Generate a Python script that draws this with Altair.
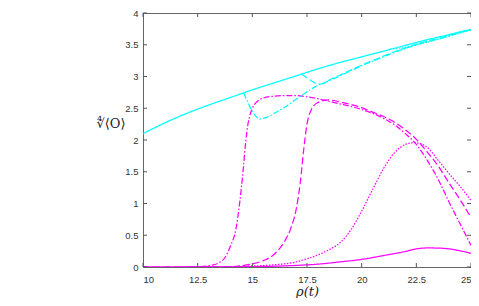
import altair as alt
import pandas as pd

# ---- data ----
cs_x = [10, 11, 12, 13, 14, 15, 16, 17, 18, 19, 20, 21, 22, 23, 24, 25]
cs_y = [2.10, 2.27, 2.42, 2.55, 2.67, 2.79, 2.90, 3.01, 3.12, 3.22, 3.31, 3.40, 3.49, 3.58, 3.66, 3.74]

cdd_x = [14.6, 14.8, 15.0, 15.2, 15.35, 15.5, 15.8, 16, 16.5, 17, 17.5, 18, 18.5, 19, 19.5, 20,
         20.5, 21, 21.5, 22, 22.5, 23, 23.5, 24, 24.5, 25]
cdd_y = [2.74, 2.59, 2.45, 2.36, 2.33, 2.34, 2.38, 2.42, 2.52, 2.64, 2.76, 2.86, 2.93, 3.01, 3.09, 3.17,
         3.24, 3.31, 3.38, 3.44, 3.50, 3.55, 3.59, 3.64, 3.69, 3.74]

cd_x = [17.25, 17.5, 17.75, 18.0, 18.25, 18.5, 19, 19.5, 20, 20.5, 21, 21.5, 22, 22.5, 23, 23.5, 24, 24.5, 25]
cd_y = [3.04, 2.98, 2.92, 2.88, 2.89, 2.94, 3.02, 3.10, 3.18, 3.25, 3.32, 3.39, 3.45, 3.51, 3.56, 3.60, 3.65, 3.70, 3.74]

cdot_x = [21.3, 21.75, 22.2, 22.7, 23.2, 23.7, 24.2, 24.7, 25]
cdot_y = [3.43, 3.445, 3.475, 3.515, 3.56, 3.605, 3.655, 3.705, 3.74]

mdd_x = [10, 11, 12, 12.5, 13, 13.5, 13.75, 14, 14.25, 14.4, 14.5, 14.6, 14.7, 14.8, 14.9, 15, 15.2, 15.5,
         16, 16.5, 17, 17.5, 18, 18.5, 19, 19.5, 20, 20.5, 21, 21.5, 22, 22.5, 23, 23.5, 24, 24.5, 25]
mdd_y = [0, 0, 0, 0.005, 0.02, 0.07, 0.15, 0.33, 0.6, 0.95, 1.25, 1.6, 1.98, 2.25, 2.40, 2.50, 2.60, 2.66,
         2.69, 2.70, 2.70, 2.68, 2.65, 2.61, 2.57, 2.53, 2.48, 2.42, 2.34, 2.24, 2.10, 1.93, 1.68, 1.38, 1.02, 0.68, 0.34]

md_x = [10, 12, 14, 14.5, 15, 15.5, 16, 16.5, 16.75, 17, 17.2, 17.35, 17.5, 17.7, 18, 18.5, 19, 19.5,
        20, 20.5, 21, 21.5, 22, 22.5, 23, 23.5, 24, 24.5, 25]
md_y = [0, 0, 0.005, 0.02, 0.05, 0.1, 0.2, 0.42, 0.6, 0.9, 1.35, 1.85, 2.25, 2.48, 2.59, 2.63, 2.60, 2.56,
        2.51, 2.44, 2.37, 2.28, 2.16, 2.01, 1.81, 1.59, 1.32, 1.06, 0.78]

mdot_x = [10, 12, 14, 15, 16, 17, 17.5, 18, 18.5, 19, 19.5, 20, 20.5, 21, 21.5, 22, 22.4, 22.9, 23.5, 24, 24.5, 25]
mdot_y = [0, 0, 0.005, 0.015, 0.035, 0.08, 0.13, 0.19, 0.27, 0.38, 0.58, 0.88, 1.22, 1.55, 1.80, 1.93, 1.96,
          1.91, 1.68, 1.47, 1.27, 1.05]

ms_x = [10, 12, 14, 15, 16, 17, 18, 19, 20, 21, 22, 22.5, 23, 23.5, 24, 24.5, 25]
ms_y = [0, 0, 0.003, 0.006, 0.012, 0.025, 0.045, 0.08, 0.12, 0.18, 0.245, 0.285, 0.30, 0.298, 0.285, 0.255, 0.215]

x_ticks = [10, 12.5, 15, 17.5, 20, 22.5, 25]
y_ticks = [0, 0.5, 1, 1.5, 2, 2.5, 3, 3.5, 4]

CYAN = "#00FFFF"
MAGENTA = "#FF00FF"
SOLID = [1, 0]
DASH = [7, 3]
DOT = [1.5, 1.5]
DASHDOT = [6, 2, 1.5, 2]

series = [
    (ms_x, ms_y, MAGENTA, SOLID),
    (mdot_x, mdot_y, MAGENTA, DOT),
    (md_x, md_y, MAGENTA, DASH),
    (mdd_x, mdd_y, MAGENTA, DASHDOT),
    (cdot_x, cdot_y, CYAN, DOT),
    (cd_x, cd_y, CYAN, DASH),
    (cdd_x, cdd_y, CYAN, DASHDOT),
    (cs_x, cs_y, CYAN, SOLID),
]

W, H = 328, 254
xs = alt.Scale(domain=[10, 25], nice=False, zero=False)
ys = alt.Scale(domain=[0, 4], nice=False, zero=False)

LABEL_COLOR = "#333333"
x_axis = alt.Axis(values=x_ticks, labelExpr="'' + datum.value", ticks=False, domain=False, grid=False,
                  labelFont="Liberation Sans", labelFontSize=9.5, labelColor=LABEL_COLOR, labelPadding=7,
                  title="ρ(t)", titleFont="DejaVu Serif", titleFontStyle="italic", titleFontWeight="normal",
                  titleFontSize=13, titleColor="#222222", titlePadding=2)
y_axis = alt.Axis(values=y_ticks, labelExpr="'' + datum.value", ticks=False, domain=False, grid=False,
                  labelFont="Liberation Sans", labelFontSize=9.5, labelColor=LABEL_COLOR, labelPadding=5,
                  title="∜⟨O⟩", titleFont="DejaVu Serif", titleFontWeight="normal", titleFontSize=13,
                  titleColor="#222222", titleAngle=0, titleAlign="right", titleBaseline="middle",
                  titleX=-18, titleY=110)

layers = []
for sx, sy, col, dash in series:
    df = pd.DataFrame({"x": sx, "y": sy})
    layers.append(
        alt.Chart(df).mark_line(color=col, strokeWidth=1.25, strokeDash=dash, interpolate="monotone", clip=True)
        .encode(x=alt.X("x:Q", scale=xs, axis=x_axis),
                y=alt.Y("y:Q", scale=ys, axis=y_axis))
    )

xt = pd.DataFrame({"v": x_ticks})
yt = pd.DataFrame({"v": y_ticks})
TICK = "#555555"
layers.append(alt.Chart(xt).mark_rule(color=TICK, strokeWidth=1).encode(
    x=alt.X("v:Q", scale=xs, axis=x_axis), y=alt.value(H), y2=alt.value(H - 4)))
layers.append(alt.Chart(xt).mark_rule(color=TICK, strokeWidth=1).encode(
    x=alt.X("v:Q", scale=xs, axis=x_axis), y=alt.value(0), y2=alt.value(4)))
layers.append(alt.Chart(yt).mark_rule(color=TICK, strokeWidth=1).encode(
    y=alt.Y("v:Q", scale=ys, axis=y_axis), x=alt.value(0), x2=alt.value(4)))
layers.append(alt.Chart(yt).mark_rule(color=TICK, strokeWidth=1).encode(
    y=alt.Y("v:Q", scale=ys, axis=y_axis), x=alt.value(W - 4), x2=alt.value(W)))

chart = alt.layer(*layers).properties(
    width=W, height=H,
    autosize=alt.AutoSizeParams(type="none"),
    padding={"left": 135, "top": 5, "right": 0, "bottom": 31},
    background="white",
).configure_view(stroke="#666666", strokeWidth=1)

chart.save("out.html", embed_options={"renderer": "svg", "actions": False})
